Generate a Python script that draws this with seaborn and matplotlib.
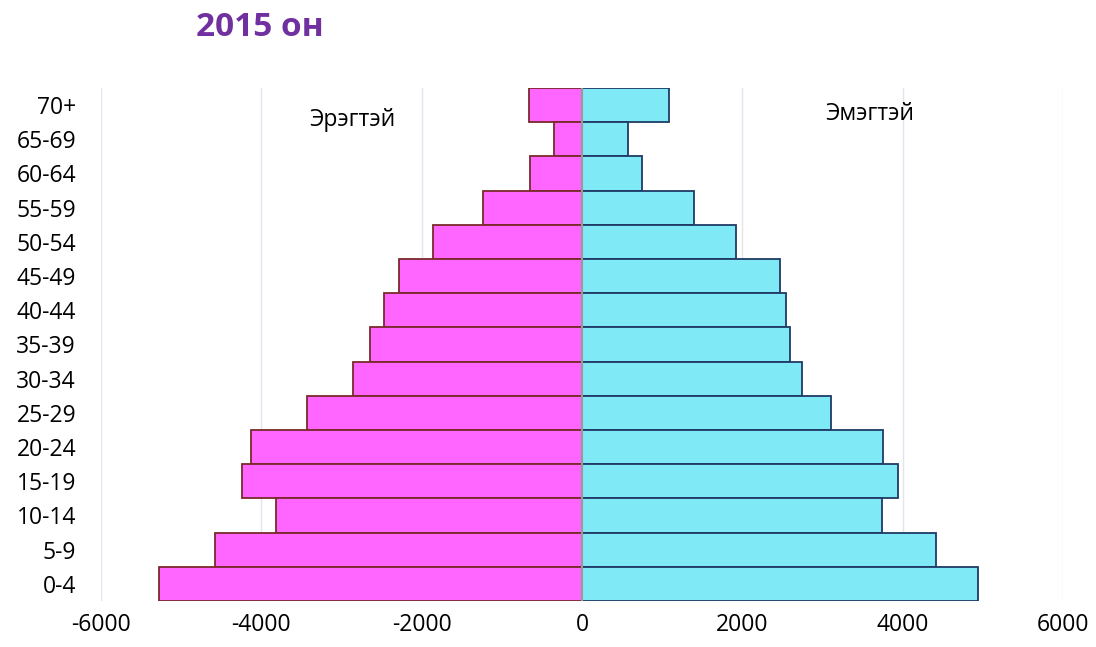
import pandas as pd
import matplotlib.pyplot as plt
import seaborn as sns

age_groups = ['70+', '65-69', '60-64', '55-59', '50-54', '45-49', '40-44', '35-39',
              '30-34', '25-29', '20-24', '15-19', '10-14', '5-9', '0-4']
male = [660, 349, 648, 1234, 1857, 2280, 2467, 2642, 2854, 3427, 4125, 4237, 3813, 4573, 5283]
female = [1084, 573, 748, 1396, 1919, 2467, 2542, 2592, 2741, 3103, 3751, 3938, 3738, 4411, 4935]
xticks = [-6000, -4000, -2000, 0, 2000, 4000, 6000]

sns.set_style('white')
plt.rcParams['font.family'] = ['Open Sans', 'DejaVu Sans']
plt.rcParams['text.color'] = 'black'
plt.rcParams['xtick.color'] = 'black'
plt.rcParams['ytick.color'] = 'black'

df = pd.DataFrame({'age': age_groups * 2,
                   'value': [-m for m in male] + female,
                   'sex': ['Эрэгтэй'] * len(male) + ['Эмэгтэй'] * len(female)})

fig = plt.figure(figsize=(10.96, 6.47), dpi=100)
ax = fig.add_axes([0.0922, 0.0711, 0.8778, 0.7929])

for v in xticks:
    if v != 0:
        ax.axvline(v, color='#e2e4f2', lw=1, zorder=0)

sns.barplot(data=df[df.sex == 'Эрэгтэй'], x='value', y='age', order=age_groups,
            orient='h', width=1.0, color='#ff66ff', edgecolor='#7a2a2a',
            linewidth=1.3, saturation=1, ax=ax, zorder=2)
sns.barplot(data=df[df.sex == 'Эмэгтэй'], x='value', y='age', order=age_groups,
            orient='h', width=1.0, color='#7fe9f5', edgecolor='#1f3a66',
            linewidth=1.3, saturation=1, ax=ax, zorder=2)
ax.axvline(0, color='#999999', lw=1.5, zorder=3)

ax.set_xlim(-6000, 6000)
ax.set_ylim(14.5, -0.5)
ax.set_xticks(xticks)
ax.set_xticklabels([str(v) for v in xticks])
ax.set_xlabel('')
ax.set_ylabel('')
ax.tick_params(axis='both', length=0, labelsize=16.5)
ax.tick_params(axis='x', pad=9)
ax.tick_params(axis='y', pad=18)
for s in ax.spines.values():
    s.set_visible(False)

fig.text(0.237, 0.958, '2015 он', color='#7030a0', fontsize=24, fontweight='bold',
         ha='center', va='center')
ax.text(-2866, 0.45, 'Эрэгтэй', fontsize=16.5, ha='center', va='center')
ax.text(3589, 0.25, 'Эмэгтэй', fontsize=16.5, ha='center', va='center')

fig.savefig('out.png', dpi=100)
